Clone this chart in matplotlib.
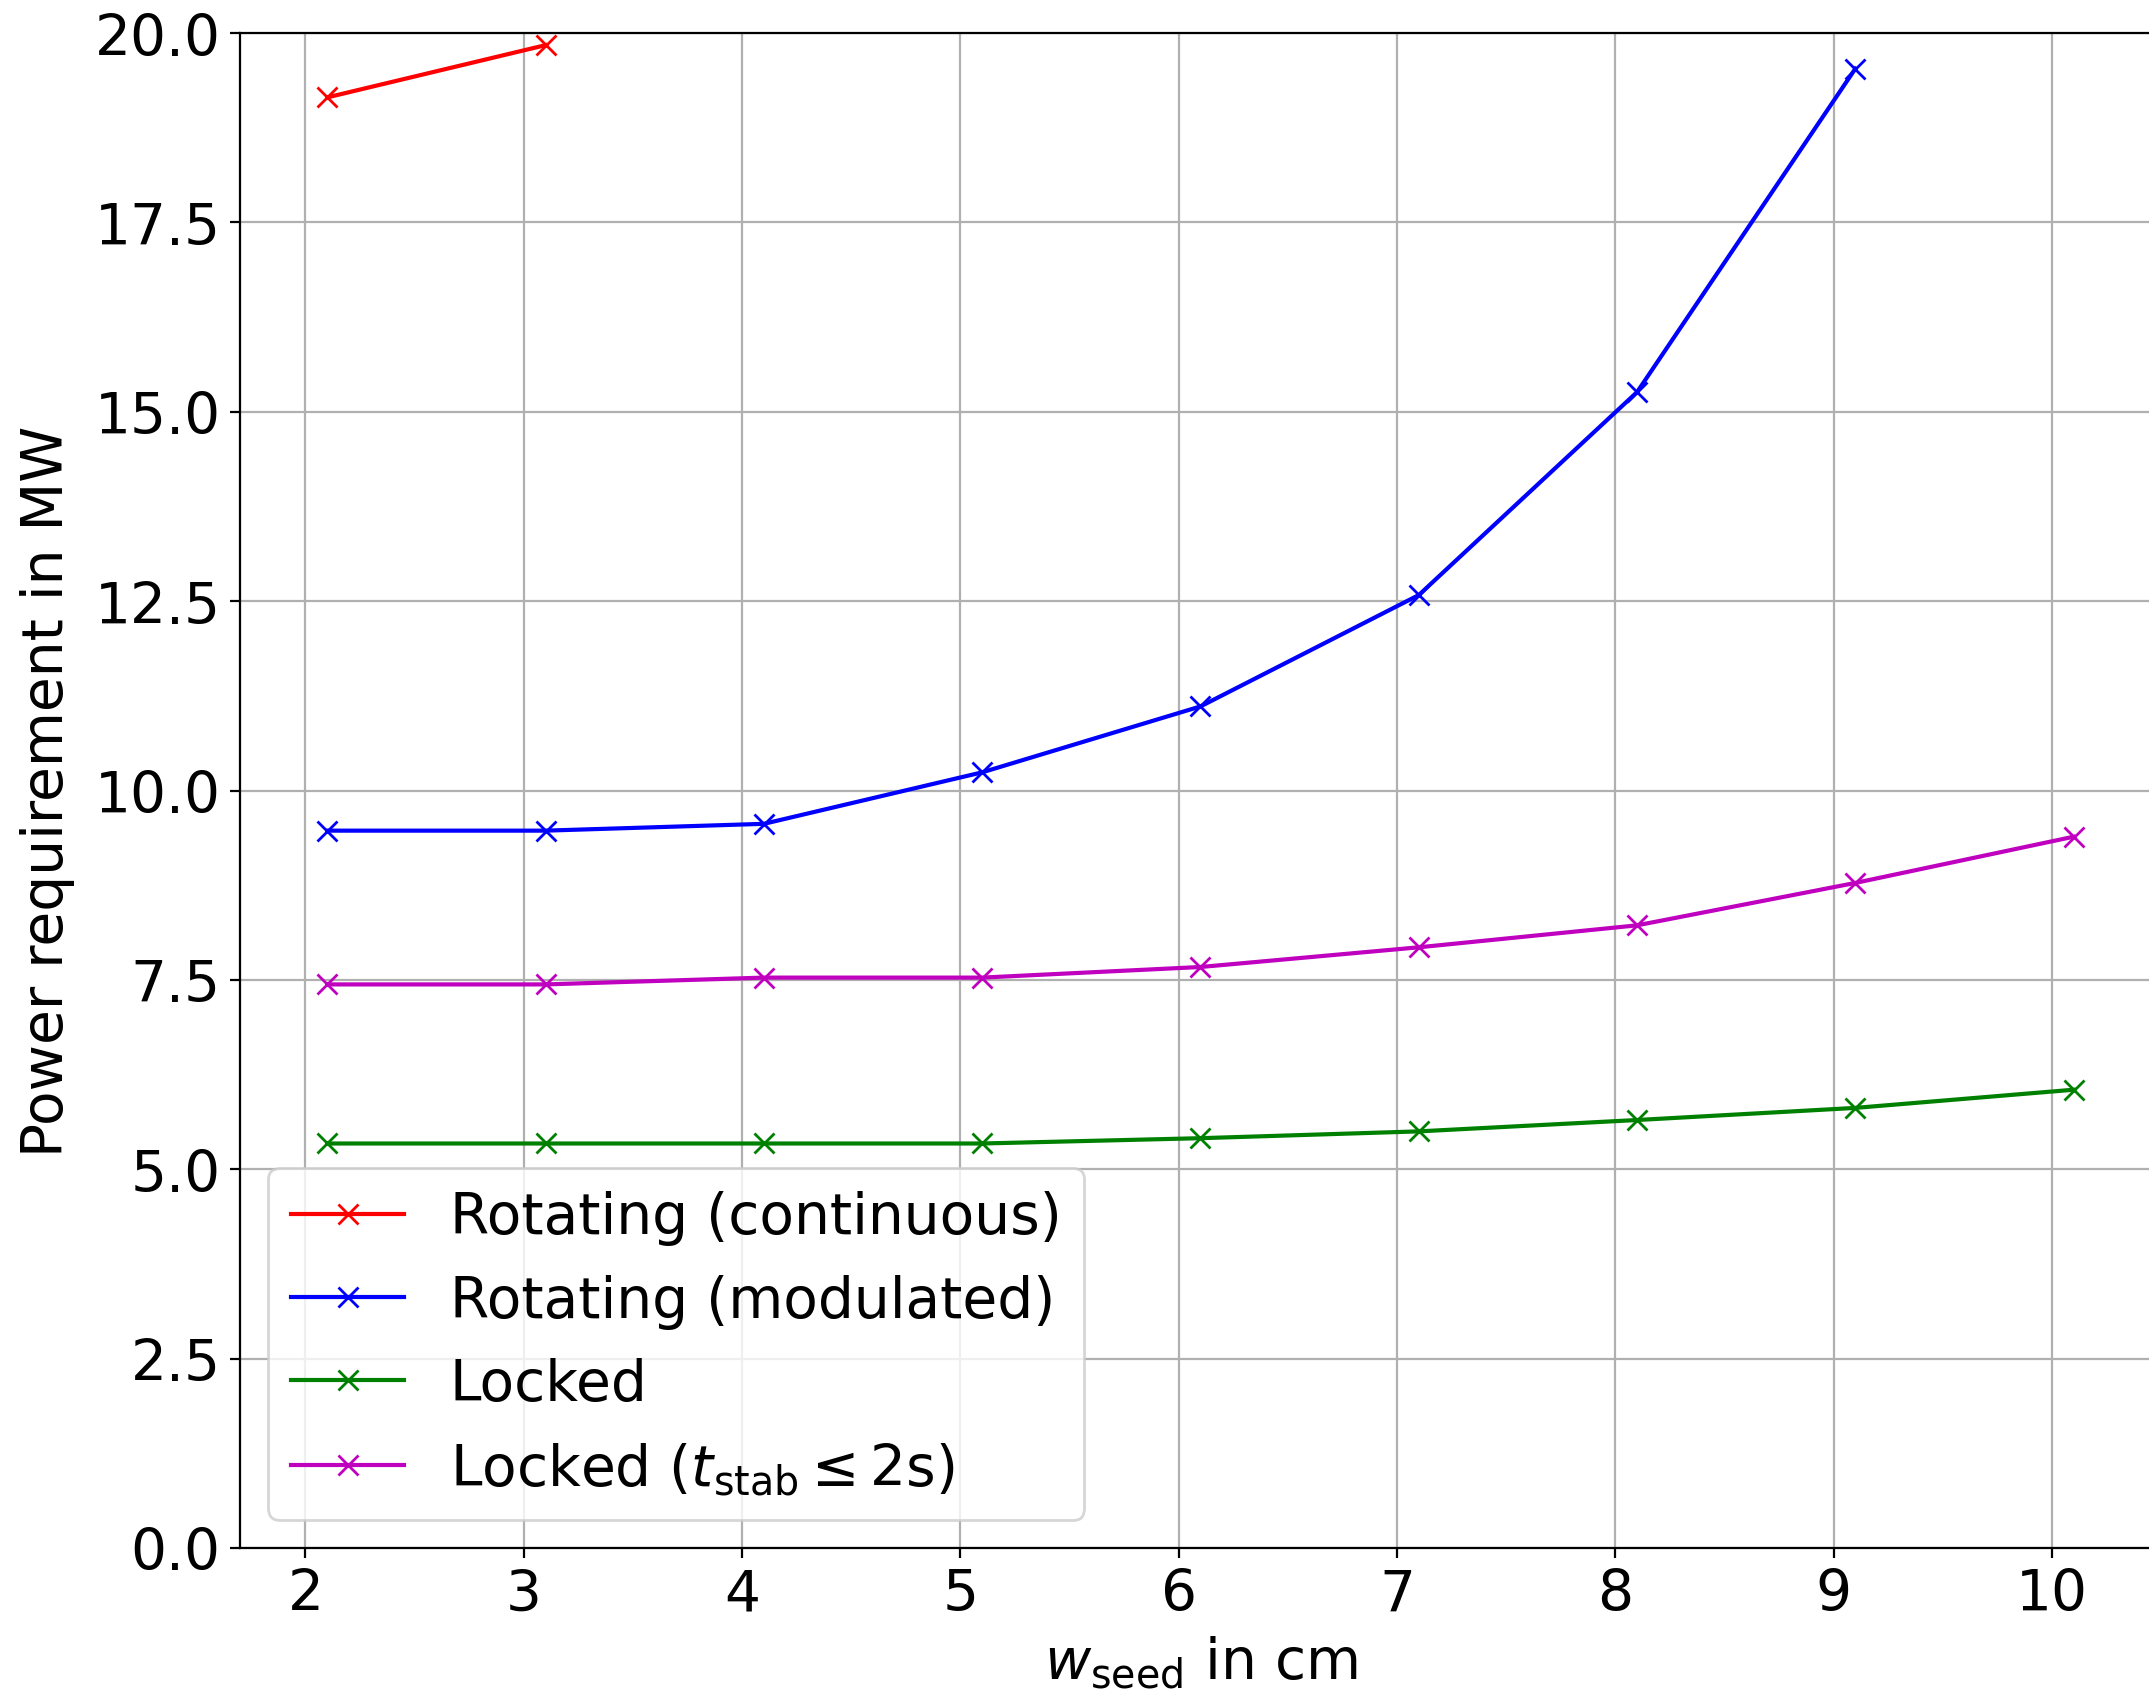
import matplotlib
matplotlib.use("Agg")
import matplotlib.pyplot as plt

plt.rcParams['font.size'] = 20.4

x_rot_cont = [2.1, 3.1]
y_rot_cont = [19.15, 19.84]

x_rot_mod = [2.1, 3.1, 4.1, 5.1, 6.1, 7.1, 8.1, 9.1]
y_rot_mod = [9.47, 9.47, 9.56, 10.24, 11.11, 12.58, 15.26, 19.53]

x_locked = [2.1, 3.1, 4.1, 5.1, 6.1, 7.1, 8.1, 9.1, 10.1]
y_locked = [5.34, 5.34, 5.34, 5.34, 5.41, 5.50, 5.65, 5.81, 6.05]

x_locked2 = [2.1, 3.1, 4.1, 5.1, 6.1, 7.1, 8.1, 9.1, 10.1]
y_locked2 = [7.44, 7.44, 7.53, 7.53, 7.67, 7.93, 8.22, 8.78, 9.39]

labels = ["Rotating (continuous)", "Rotating (modulated)", "Locked",
          r"Locked ($t_\mathrm{stab} \leq 2$s)"]

fig = plt.figure(figsize=(2149/200, 1690/200), dpi=200)
ax = fig.add_axes([240/2149, 1 - 1549/1690, (2161-240)/2149, (1549-34)/1690])

ms = 7
ax.plot(x_rot_cont, y_rot_cont, 'r-x', ms=ms, label=labels[0])
ax.plot(x_rot_mod, y_rot_mod, 'b-x', ms=ms, label=labels[1])
ax.plot(x_locked, y_locked, 'g-x', ms=ms, label=labels[2])
ax.plot(x_locked2, y_locked2, 'm-x', ms=ms, label=labels[3])

ax.set_xlim(1.7, 10.5)
ax.set_ylim(0, 20)
ax.set_xticks([2, 3, 4, 5, 6, 7, 8, 9, 10])
ax.set_yticks([0, 2.5, 5, 7.5, 10, 12.5, 15, 17.5, 20])
ax.grid(True)
ax.set_xlabel(r"$w_\mathrm{seed}$ in cm")
ax.set_ylabel("Power requirement in MW", labelpad=7)
ax.legend(loc='lower left')

fig.savefig("out.png", dpi=200)
